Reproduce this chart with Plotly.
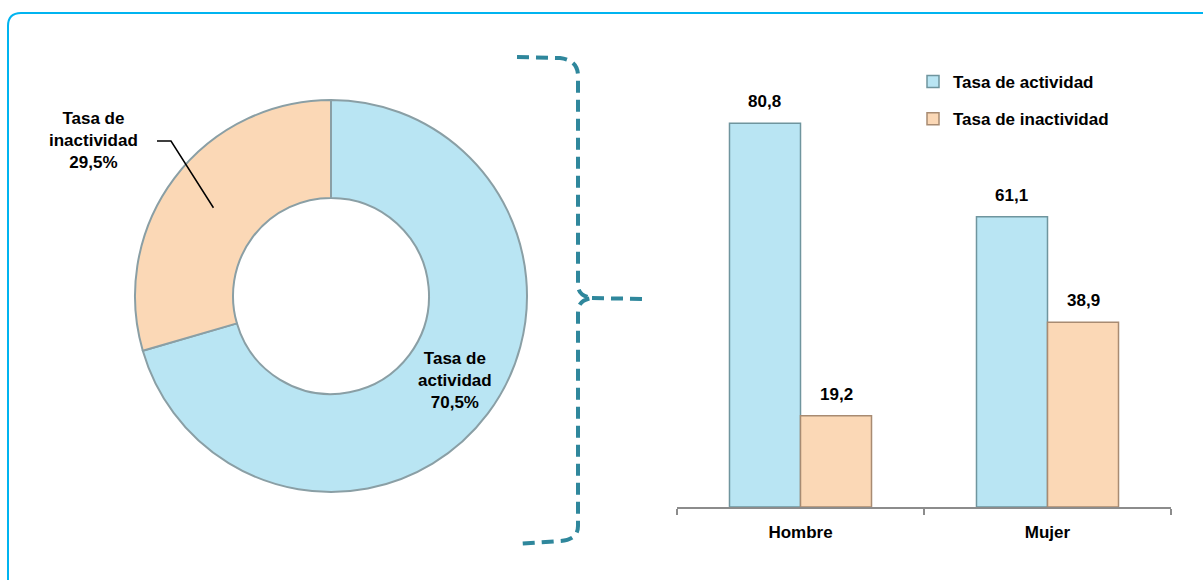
import math
import plotly.graph_objects as go

# ---------------- data ----------------
pie_labels = ["Tasa de actividad", "Tasa de inactividad"]
pie_label_lines = ["Tasa de<br>actividad", "Tasa de<br>inactividad"]
pie_values = [70.5, 29.5]

categories = ["Hombre", "Mujer"]
series_names = ["Tasa de actividad", "Tasa de inactividad"]
activity = [80.8, 61.1]
inactivity = [19.2, 38.9]

# ---------------- style ----------------
W, H = 1203, 580
FONT = "Liberation Sans, Arial, sans-serif"
FS = 17
BLUE, BLUE_EDGE = "#B9E5F3", "#6F959E"
PEACH, PEACH_EDGE = "#FBD8B6", "#A88B72"
BRACE = "#2F879C"
FRAME = "#00B4F0"


def px(x):
    return x / W


def py(y):
    return 1 - y / H


def fmt(v):
    return f"{v:.1f}".replace(".", ",")


# pie geometry (pixels)
CX, CY, R = 331, 296, 196
HOLE = 0.5

fig = go.Figure()

fig.add_trace(go.Pie(
    labels=pie_labels,
    values=pie_values,
    hole=HOLE,
    sort=False,
    direction="clockwise",
    rotation=0,
    marker=dict(colors=[BLUE, PEACH], line=dict(color="#8A9FA5", width=2)),
    textinfo="none",
    domain=dict(x=[px(CX - R), px(CX + R)], y=[py(CY + R), py(CY - R)]),
    showlegend=False,
    hoverinfo="label+value",
))

fig.add_trace(go.Bar(
    name=series_names[0], x=categories, y=activity,
    marker=dict(color=BLUE, line=dict(color=BLUE_EDGE, width=1.5)),
    legendgroup="a",
))
fig.add_trace(go.Bar(
    name=series_names[1], x=categories, y=inactivity,
    marker=dict(color=PEACH, line=dict(color=PEACH_EDGE, width=1.5)),
    legendgroup="b",
))

BARGAP = 0.425
off = (1 - BARGAP) / 4
annotations = []
for i, cat in enumerate(categories):
    for val, sgn in ((activity[i], -1), (inactivity[i], 1)):
        annotations.append(dict(
            x=i + sgn * off, y=val, xref="x", yref="y",
            text=fmt(val), showarrow=False,
            xanchor="center", yanchor="bottom", yshift=10,
            font=dict(family=FONT, size=FS, color="black", weight="bold"),
        ))

# slice mid-angles (clockwise from top) and mid-ring radius
total = sum(pie_values)
rr = R * (1 + HOLE) / 2
cum = 0.0
mids = []
for v in pie_values:
    a = math.radians((cum + v / 2) / total * 360)
    mids.append((CX + rr * math.sin(a), CY - rr * math.cos(a)))
    cum += v

LABEL_FONT = dict(family=FONT, size=FS, color="black", weight="bold")

# activity label inside its slice
ax_, ay_ = mids[0]
annotations.append(dict(
    x=px(ax_ + 6), y=py(ay_ - 4), xref="paper", yref="paper",
    xanchor="center", yanchor="middle",
    text=f"{pie_label_lines[0]}<br>{fmt(pie_values[0])}%",
    showarrow=False, align="center", font=LABEL_FONT,
))
# inactivity label outside, with leader line
ex, ey = mids[1]
annotations.append(dict(
    x=px(93), y=py(140), xref="paper", yref="paper",
    xanchor="center", yanchor="middle",
    text=f"{pie_label_lines[1]}<br>{fmt(pie_values[1])}%",
    showarrow=False, align="center", font=LABEL_FONT,
))

shapes = [
    # frame
    dict(type="path", xref="paper", yref="paper",
         path=f"M {px(8)},{py(585)} L {px(8)},{py(26)} Q {px(8)},{py(13)} {px(21)},{py(13)} L {px(1210)},{py(13)}",
         line=dict(color=FRAME, width=2)),
    # leader line
    dict(type="path", xref="paper", yref="paper",
         path=f"M {px(157)},{py(141)} L {px(171)},{py(141)} L {px(ex)},{py(ey)}",
         line=dict(color="black", width=1.5)),
    # brace
    dict(type="path", xref="paper", yref="paper",
         path=(f"M {px(517)},{py(57)} L {px(560)},{py(58)} Q {px(578)},{py(60)} {px(578)},{py(76)} "
               f"L {px(578)},{py(285)} Q {px(578)},{py(296)} {px(592)},{py(298)} "
               f"Q {px(578)},{py(300)} {px(578)},{py(312)} L {px(578)},{py(526)} "
               f"Q {px(578)},{py(540)} {px(560)},{py(541)} L {px(517)},{py(544)}"),
         line=dict(color=BRACE, width=4, dash="12px,7px")),
    dict(type="path", xref="paper", yref="paper",
         path=f"M {px(592)},{py(298)} L {px(642)},{py(299)}",
         line=dict(color=BRACE, width=4, dash="12px,7px")),
]

fig.update_layout(
    width=W, height=H,
    margin=dict(l=0, r=0, t=0, b=0),
    paper_bgcolor="white", plot_bgcolor="white",
    separators=",.",
    barmode="group", bargap=BARGAP, bargroupgap=0,
    font=dict(family=FONT, size=FS, color="black"),
    xaxis=dict(
        domain=[px(677), px(1171)],
        showline=True, linecolor="#8C8C8C", linewidth=2,
        ticks="outside", tickson="boundaries", ticklen=6, tickcolor="#8C8C8C", tickwidth=2,
        tickfont=dict(family=FONT, size=FS, color="black", weight="bold"),
        ticklabelstandoff=9,
        showgrid=False, zeroline=False,
    ),
    yaxis=dict(
        domain=[py(507), py(507 - 90 * 4.75)],
        range=[0, 90], visible=False, showgrid=False, zeroline=False,
    ),
    legend=dict(
        x=px(913), y=py(64), xanchor="left", yanchor="top",
        font=dict(family=FONT, size=FS, color="black", weight="bold"),
        tracegroupgap=12, bgcolor="rgba(0,0,0,0)", itemwidth=30,
    ),
    annotations=annotations,
    shapes=shapes,
)

fig.write_html("out.html", config={"displayModeBar": False},
               post_script="document.body.style.margin='0px';")
